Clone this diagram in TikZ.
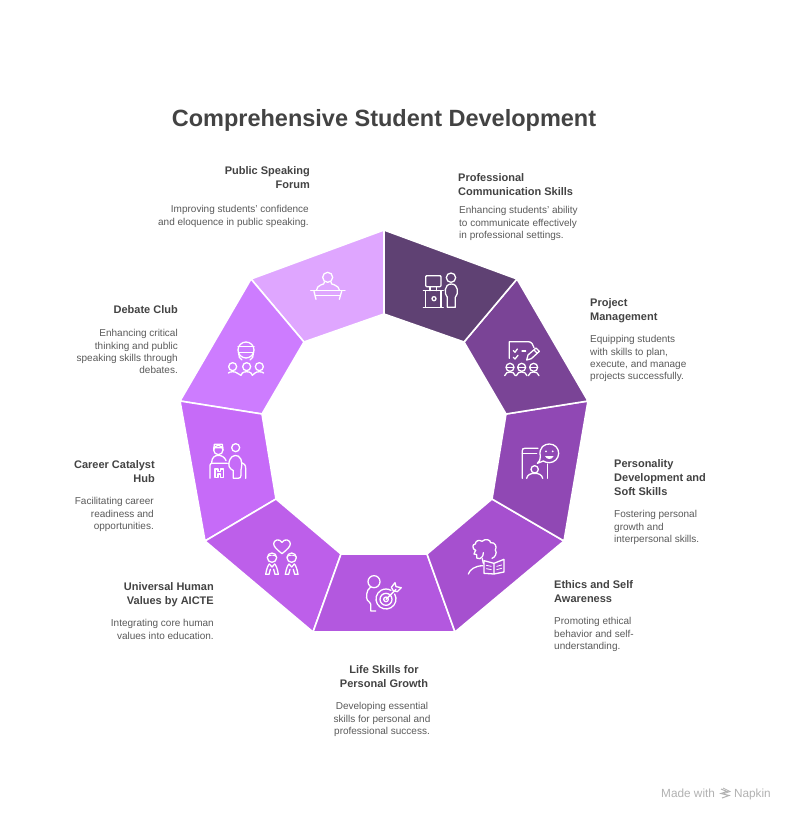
\documentclass[tikz,border=0pt]{standalone}
\usepackage{fontspec}
\setmainfont{Liberation Sans}
\definecolor{ca}{HTML}{5F4173}
\definecolor{cb}{HTML}{7A4496}
\definecolor{cc}{HTML}{9048B4}
\definecolor{cd}{HTML}{A650CF}
\definecolor{ce}{HTML}{B358DF}
\definecolor{cf}{HTML}{BD5FEA}
\definecolor{cg}{HTML}{C66BF8}
\definecolor{ch}{HTML}{CD7CFF}
\definecolor{ci}{HTML}{DFA6FF}
\definecolor{tx}{HTML}{434343}
\definecolor{bd}{HTML}{5A5A5A}
\tikzset{
 seg/.style={fill=#1,draw=white,line width=1.6pt,line join=miter},
 ttl/.style={font=\fontsize{23.5}{28}\selectfont\bfseries,text=tx,inner sep=0pt},
 hd/.style={font=\fontsize{11}{14}\selectfont\bfseries,text=tx,inner sep=0pt},
 bdy/.style={font=\fontsize{10}{12.2}\selectfont,text=bd,inner sep=0pt},
 ic/.style={draw=white,line width=1.3pt,line cap=round,line join=round,fill=none},
 icn/.style={draw=white,line width=0.8pt,line cap=round,line join=round,fill=none},
 mk/.style={font=\fontsize{11.8}{13}\selectfont,text=black!30,inner sep=0pt},
}
\begin{document}
\begin{tikzpicture}[x=1pt,y=-1pt]
\useasboundingbox (0,0) rectangle (794,821);
\fill[white] (0,0) rectangle (794,821);
% outer
\coordinate (a0) at (384,230);\coordinate (a1) at (517,279);\coordinate (a2) at (588,401);
\coordinate (a3) at (564,541);\coordinate (a4) at (455,632);\coordinate (a5) at (313,632);
\coordinate (a6) at (205,541);\coordinate (a7) at (180,401);\coordinate (a8) at (251,279);
% inner
\coordinate (b0) at (384,314);\coordinate (b1) at (464,342);\coordinate (b2) at (506,414);
\coordinate (b3) at (492,499);\coordinate (b4) at (427,554);\coordinate (b5) at (341,554);
\coordinate (b6) at (276,499);\coordinate (b7) at (262,414);\coordinate (b8) at (304,342);
\path[seg=ci] (a8)--(a0)--(b0)--(b8)--cycle;
\path[seg=ch] (a7)--(a8)--(b8)--(b7)--cycle;
\path[seg=cg] (a6)--(a7)--(b7)--(b6)--cycle;
\path[seg=cf] (a5)--(a6)--(b6)--(b5)--cycle;
\path[seg=ce] (a4)--(a5)--(b5)--(b4)--cycle;
\path[seg=cd] (a3)--(a4)--(b4)--(b3)--cycle;
\path[seg=cc] (a2)--(a3)--(b3)--(b2)--cycle;
\path[seg=cb] (a1)--(a2)--(b2)--(b1)--cycle;
\path[seg=ca] (a0)--(a1)--(b1)--(b0)--cycle;
% Title
\node[ttl,anchor=center] (title) at (384,120.5) {Comprehensive Student Development};
% Labels
\node[hd,anchor=north east,align=right] (h9) at (310,166) {Public Speaking\\Forum};
\node[bdy,anchor=north east,align=right] (t9) at (309,205.5) {Improving students' confidence\\and eloquence in public speaking.};
\node[hd,anchor=north west,align=left] (h1) at (458,173.5) {Professional\\Communication Skills};
\node[bdy,anchor=north west,align=left] (t1) at (459,206.5) {Enhancing students' ability\\to communicate effectively\\in professional settings.};
\node[hd,anchor=north west,align=left] (h2) at (590,298.5) {Project\\Management};
\node[bdy,anchor=north west,align=left] (t2) at (590,335.5) {Equipping students\\with skills to plan,\\execute, and manage\\projects successfully.};
\node[hd,anchor=north west,align=left] (h3) at (614,459.5) {Personality\\Development and\\Soft Skills};
\node[bdy,anchor=north west,align=left] (t3) at (614,510.5) {Fostering personal\\growth and\\interpersonal skills.};
\node[hd,anchor=north west,align=left] (h4) at (554,580.5) {Ethics and Self\\Awareness};
\node[bdy,anchor=north west,align=left] (t4) at (554,617.5) {Promoting ethical\\behavior and self-\\understanding.};
\node[hd,anchor=north,align=center] (h5) at (384,665.5) {Life Skills for\\Personal Growth};
\node[bdy,anchor=north,align=center] (t5) at (382,702.5) {Developing essential\\skills for personal and\\professional success.};
\node[hd,anchor=north east,align=right] (h6) at (214,582.5) {Universal Human\\Values by AICTE};
\node[bdy,anchor=north east,align=right] (t6) at (214,619.5) {Integrating core human\\values into education.};
\node[hd,anchor=north east,align=right] (h7) at (155,460.5) {Career Catalyst\\Hub};
\node[bdy,anchor=north east,align=right] (t7) at (154,497.5) {Facilitating career\\readiness and\\opportunities.};
\node[hd,anchor=north east,align=right] (h8) at (178,305.5) {Debate Club};
\node[bdy,anchor=north east,align=right] (t8) at (178,329.5) {Enhancing critical\\thinking and public\\speaking skills through\\debates.};
% Footer
\node[mk,anchor=base west] (m1) at (661,797) {Made with};
\node[mk,anchor=base east] (m2) at (771,797) {Napkin};
\draw[black!30,line width=1pt] (721,789)--(727,791.5)--(721,793.5)--(729,795.5)--(722,798);
\draw[black!30,line width=0.8pt] (723,788)--(730,791.5)--(724,793.5);
% Icon 1 professional
\begin{scope}[shift={(380,220)},scale=1/3]
\draw[ic,rounded corners=1pt] (137,167) rectangle (183,200);
\draw[ic] (150,200)--(150,212) (170,200)--(170,212);
\draw[ic] (130,212)--(190,212) (137,212)--(137,262) (183,212)--(183,262) (130,262)--(190,262);
\draw[ic] (162,236) circle (6);
\draw[ic] (213,173) circle (14);
\draw[ic] (202,262)--(202,232) .. controls (192,222) and (192,192) .. (214,192) .. controls (236,192) and (236,222) .. (226,232)--(226,262)--cycle;
\end{scope}
% Icon 2 project
\begin{scope}[shift={(380,220)},scale=1/3]
\draw[ic] (388,415)--(388,365)--(445,365) .. controls (455,365) and (460,375) .. (462,383);
\draw[ic] (400,392)--(405,397)--(412,387) (400,412)--(405,417)--(414,406);
\draw[ic] (426,393)--(437,393);
\draw[ic] (440,420)--(444,405)--(468,384)--(478,394)--(454,416)--cycle (462,390)--(472,400);
\foreach \x in {390,425,461}{
 \draw[ic] (\x,442) circle (12);
 \draw[icn] (\x-11,442)--(\x+11,442);
 \draw[ic] (\x-16,467) .. controls (\x-12,458) and (\x-8,456) .. (\x,456) .. controls (\x+8,456) and (\x+12,458) .. (\x+16,467);
}
\end{scope}
% Icon 3 personality
\begin{scope}[shift={(420,400)},scale=1/3]
\draw[ic] (307,235)--(307,152) .. controls (307,147) and (309,145) .. (314,145)--(354,145);
\draw[ic] (307,160)--(350,160) (382,192)--(382,235);
\draw[ic] (344,208) circle (11);
\draw[ic] (320,235) .. controls (322,224) and (332,220) .. (344,220) .. controls (356,220) and (366,224) .. (368,235);
\draw[ic] (361,170) .. controls (355,140) and (375,132) .. (388,132) .. controls (405,132) and (416,145) .. (416,160) .. controls (416,175) and (403,188) .. (388,188) .. controls (380,188) and (375,186) .. (370,183)--(352,190) .. controls (358,184) and (362,178) .. (361,170)--cycle;
\fill[white] (378,154) circle (3) (398,154) circle (3);
\fill[white] (375,168) .. controls (380,180) and (396,180) .. (401,168)--cycle;
\end{scope}
% Icon 4 ethics
\begin{scope}[shift={(420,400)},scale=1/3]
\draw[ic] (167,452) .. controls (155,445) and (157,432) .. (166,432) .. controls (166,422) and (178,418) .. (186,424) .. controls (196,414) and (212,420) .. (212,428) .. controls (225,426) and (232,440) .. (226,450) .. controls (232,458) and (226,472) .. (216,475);
\draw[ic] (167,450)--(162,462)--(170,464)--(170,474)--(180,476) .. controls (190,470) and (190,462) .. (190,458);
\draw[ic] (187,476)--(190,490);
\draw[ic] (145,522) .. controls (150,508) and (165,498) .. (188,497);
\draw[ic] (192,482)--(222,490)--(252,478)--(252,516)--(222,522)--(192,520)--cycle (222,490)--(222,522);
\draw[icn] (199,496)--(214,499) (199,506)--(214,509) (230,499)--(245,495) (230,509)--(245,505);
\end{scope}
% Icon 5 life
\begin{scope}[shift={(310,540)},scale=1/3]
\draw[ic] (192,125) circle (18);
\draw[ic] (181,142) .. controls (168,150) and (168,175) .. (172,180) .. controls (176,186) and (182,188) .. (182,192)--(182,213)--(197,213);
\draw[ic] (254,162) arc (-30:300:30);
\draw[ic] (228,178) circle (18);
\draw[ic] (228,178) circle (7);
\draw[ic] (228,178)--(258,148);
\draw[ic] (244,142)--(255,128)--(258,140)--(274,143)--(262,155)--(250,152)--cycle;
\end{scope}
% Icon 6 values
\begin{scope}[shift={(170,400)},scale=1/3]
\draw[ic] (336,461) .. controls (320,448) and (311,440) .. (311,431) .. controls (311,420) and (328,414) .. (336,427) .. controls (344,414) and (361,420) .. (361,431) .. controls (361,440) and (352,448) .. (336,461)--cycle;
\foreach \x in {306,365}{
 \draw[ic] (\x,473) circle (14);
 \draw[icn] (\x-14,470) .. controls (\x-6,464) and (\x+6,464) .. (\x+14,470);
 \draw[ic] (\x-19,523) .. controls (\x-16,505) and (\x-12,496) .. (\x-8,492) (\x+19,523) .. controls (\x+16,505) and (\x+12,496) .. (\x+8,492);
 \draw[ic] (\x-19,523)--(\x-9,523)--(\x-5,508) (\x+19,523)--(\x+9,523)--(\x+5,508);
 \draw[ic] (\x-8,492)--(\x,501)--(\x+8,492);
}
\end{scope}
% Icon 7 career
\begin{scope}[shift={(170,400)},scale=1/3]
\draw[ic] (145,150) circle (14);
\draw[ic] (131,143)--(159,143) (133,133)--(157,133) (133,133)--(131,150) (157,133)--(159,150);
\draw[ic] (125,188) .. controls (125,172) and (135,166) .. (145,166) .. controls (155,166) and (165,172) .. (168,182);
\draw[ic] (120,235)--(120,196) .. controls (120,192) and (122,190) .. (126,190)--(172,190);
\draw[ic] (135,207)--(135,232)--(144,232)--(144,222)--(152,222)--(152,232)--(161,232)--(161,207)--(152,207)--(152,214)--(144,214)--(144,207)--cycle;
\draw[ic] (197,143) circle (12);
\draw[ic] (190,235)--(190,212) .. controls (178,205) and (172,198) .. (180,178) .. controls (185,165) and (205,160) .. (213,178) .. controls (216,186) and (216,195) .. (213,210)--(213,226) .. controls (213,232) and (210,235) .. (204,235)--(190,235)--cycle;
\draw[ic] (227,235)--(227,205) .. controls (227,195) and (222,190) .. (215,188);
\end{scope}
% Icon 8 debate
\begin{scope}[shift={(170,220)},scale=1/3]
\draw[ic] (228,390) circle (24);
\draw[ic] (204,380)--(252,380) (205,397)--(251,397);
\draw[ic] (206,400) .. controls (204,410) and (210,415) .. (216,420) (250,400) .. controls (252,410) and (246,415) .. (240,420);
\foreach \x in {188,230,268}{
 \draw[ic] (\x,440) circle (12);
 \draw[ic] (\x-13,459) .. controls (\x-8,454) and (\x+8,454) .. (\x+13,459);
}
\draw[ic] (201,459)--(213,466)--(217,459) (243,459)--(247,466)--(255,459);
\end{scope}
% Icon 9 public
\begin{scope}[shift={(170,220)},scale=1/3]
\draw[ic] (473,172) circle (15);
\draw[ic] (463,186) .. controls (465,192) and (460,192) .. (452,195) .. controls (444,198) and (440,204) .. (440,210);
\draw[ic] (483,186) .. controls (481,192) and (486,192) .. (494,195) .. controls (502,198) and (508,204) .. (508,210);
\draw[ic] (422,212)--(525,212);
\draw[ic] (432,214)--(438,238) (515,214)--(508,238);
\draw[icn] (436,225)--(510,225);
\end{scope}
\end{tikzpicture}
\end{document}
